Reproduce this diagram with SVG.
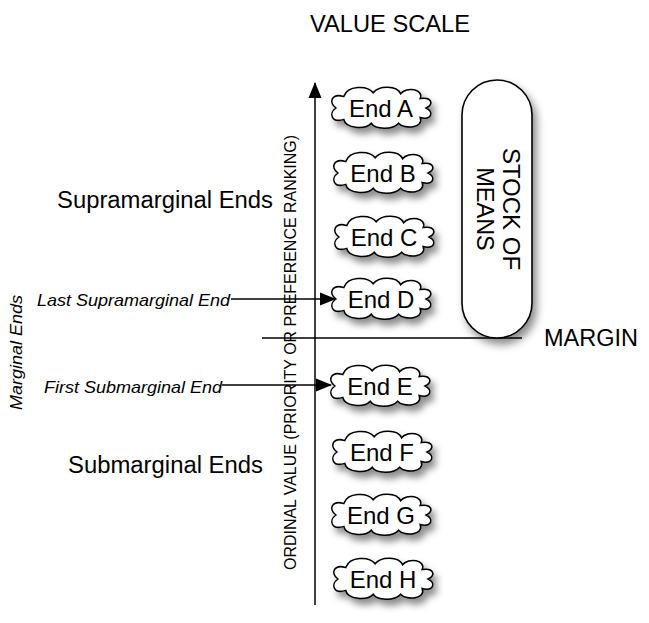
<svg xmlns="http://www.w3.org/2000/svg" width="649" height="623" viewBox="0 0 649 623">
<style>
text{font-family:"Liberation Sans",Arial,sans-serif;fill:#000}
.lbl{font-size:23.5px}
.cl{font-size:24px;text-anchor:middle}
.it{font-size:17px;font-style:italic}
.cloud{fill:#fff;stroke:#000;stroke-width:1.6}
.ln{stroke:#000;stroke-width:1.5;fill:none}
</style>
<defs>
<filter id="sh" x="-30%" y="-40%" width="170%" height="200%">
<feDropShadow dx="4" dy="6" stdDeviation="4" flood-color="#000" flood-opacity="0.45"/>
</filter>
<path id="cp" d="M-46,0 C-54,-6 -50,-16 -38,-12 C-34,-24 -14,-24 -8,-16 C-2,-24 16,-24 20,-15 C26,-23 44,-20 40,-10 C52,-12 54,-4 46,0 C54,4 52,13 40,10 C44,21 24,23 18,16 C12,23 -6,23 -10,16 C-16,23 -36,22 -38,12 C-50,16 -54,6 -46,0 Z"/>
<marker id="ah" markerWidth="16" markerHeight="16" refX="15" refY="8" orient="auto" markerUnits="userSpaceOnUse">
<path d="M0,1.5 L16,8 L0,14.5 Z" fill="#000"/>
</marker>
</defs>
<rect width="649" height="623" fill="#fff"/>

<g id="labels">
<text class="lbl" x="310" y="32" textLength="160" lengthAdjust="spacingAndGlyphs">VALUE SCALE</text>
<text class="lbl" x="57" y="208" textLength="216" lengthAdjust="spacingAndGlyphs">Supramarginal Ends</text>
<text class="lbl" x="68" y="473" textLength="195" lengthAdjust="spacingAndGlyphs">Submarginal Ends</text>
<text class="lbl" x="544" y="346" textLength="94" lengthAdjust="spacingAndGlyphs">MARGIN</text>
<text class="it" x="37" y="306" textLength="193" lengthAdjust="spacingAndGlyphs">Last Supramarginal End</text>
<text class="it" x="44" y="393" textLength="178" lengthAdjust="spacingAndGlyphs">First Submarginal End</text>
<text class="it" transform="translate(22,410) rotate(-90)" textLength="115" lengthAdjust="spacingAndGlyphs">Marginal Ends</text>
<text style="font-size:16px" transform="translate(296,570) rotate(-90)" textLength="435" lengthAdjust="spacingAndGlyphs">ORDINAL VALUE (PRIORITY OR PREFERENCE RANKING)</text>
</g>

<g id="connectors">
<line class="ln" x1="315" y1="605" x2="315" y2="83" marker-end="url(#ah)"/>
<line class="ln" x1="262" y1="338" x2="522" y2="338"/>
<line class="ln" x1="231" y1="299" x2="335" y2="299" marker-end="url(#ah)"/>
<line class="ln" x1="222" y1="385" x2="331" y2="385" marker-end="url(#ah)"/>
</g>

<g id="stock">
<rect x="462" y="80" width="70" height="258" rx="35" ry="35" fill="#fff" stroke="#000" stroke-width="1.6" filter="url(#sh)"/>
<text style="font-size:24px" text-anchor="middle" transform="translate(503,209) rotate(90)">STOCK OF</text>
<text style="font-size:23.5px" text-anchor="middle" transform="translate(477,209) rotate(90)">MEANS</text>
</g>

<g id="endA" transform="translate(381,108)"><use href="#cp" class="cloud" filter="url(#sh)" transform="scale(0.98,0.95)"/><text class="cl" x="0" y="8.5">End A</text></g>
<g id="endB" transform="translate(383,173)"><use href="#cp" class="cloud" filter="url(#sh)" transform="scale(0.98,0.95)"/><text class="cl" x="0" y="8.5">End B</text></g>
<g id="endC" transform="translate(384,237)"><use href="#cp" class="cloud" filter="url(#sh)" transform="scale(0.98,0.95)"/><text class="cl" x="0" y="8.5">End C</text></g>
<g id="endD" transform="translate(381,299)"><use href="#cp" class="cloud" filter="url(#sh)" transform="scale(0.98,0.95)"/><text class="cl" x="0" y="8.5">End D</text></g>
<g id="endE" transform="translate(380,386)"><use href="#cp" class="cloud" filter="url(#sh)" transform="scale(0.98,0.95)"/><text class="cl" x="0" y="8.5">End E</text></g>
<g id="endF" transform="translate(382,452)"><use href="#cp" class="cloud" filter="url(#sh)" transform="scale(0.98,0.95)"/><text class="cl" x="0" y="8.5">End F</text></g>
<g id="endG" transform="translate(381,515)"><use href="#cp" class="cloud" filter="url(#sh)" transform="scale(0.98,0.95)"/><text class="cl" x="0" y="8.5">End G</text></g>
<g id="endH" transform="translate(383,579)"><use href="#cp" class="cloud" filter="url(#sh)" transform="scale(0.98,0.95)"/><text class="cl" x="0" y="8.5">End H</text></g>
</svg>
